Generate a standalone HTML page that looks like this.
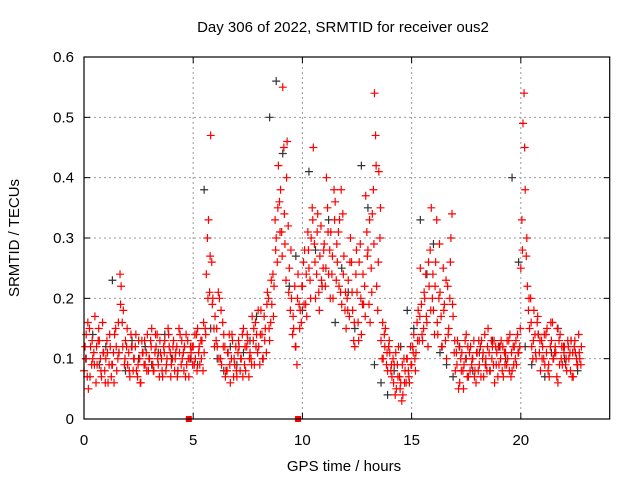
<!DOCTYPE html>
<html><head><meta charset="utf-8"><style>
html,body{margin:0;padding:0;background:#fff;}
svg{display:block;font-family:"Liberation Sans",sans-serif;}
</style></head><body>
<svg id="chart" width="640" height="480">
</svg>
<script>
const xTicks=[0,5,10,15,20];
const yTicks=[0,0.1,0.2,0.3,0.4,0.5,0.6];
const yTickLabels=["0","0.1","0.2","0.3","0.4","0.5","0.6"];
const redStartHour=0, redStepHour=0.1;
const redA=[.08,.14,.05,.12,.10,.17,.09,.13,.07,.11,
.10,.06,.12,.09,.14,.08,.11,.22,.18,.13,
.09,.07,.12,.10,.08,.13,.06,.11,.09,.14,
.10,.15,.08,.12,.09,.11,.07,.13,.10,.12,
.09,.13,.11,.08,.14,.10,.12,.09,.07,.11,
.12,.10,.15,.09,.13,.11,.24,.33,.47,.20,
.17,.12,.20,.09,.14,.08,.11,.06,.13,.09,
.07,.12,.10,.15,.08,.13,.11,.17,.09,.14,
.12,.18,.10,.15,.21,.13,.19,.22,.30,.42,
.38,.55,.29,.46,.25,.20,.15,.12,.24,.18,
.22,.28,.17,.25,.30,.45,.20,.34,.27,.22,
.29,.40,.24,.31,.20,.36,.26,.33,.19,.27,
.15,.23,.30,.18,.12,.21,.26,.14,.19,.37,
.28,.16,.34,.54,.22,.41,.13,.10,.15,.08,
.11,.07,.09,.05,.12,.06,.04,.08,.10,.06,
.09,.14,.11,.18,.25,.13,.20,.16,.22,.35,
.18,.26,.14,.21,.12,.19,.10,.15,.30,.17,
.08,.13,.06,.11,.09,.14,.07,.12,.10,.08,
.11,.09,.13,.07,.10,.15,.08,.12,.06,.11,
.09,.13,.07,.11,.10,.14,.08,.12,.09,.11,
.25,.49,.38,.22,.15,.12,.18,.10,.14,.08,
.12,.09,.15,.07,.13,.10,.11,.06,.14,.09,
.12,.08,.10,.13,.07,.11,.09,.10];
const redBStartHour=0.05;
const redB=[.12,.07,.15,.09,.11,.06,.13,.10,.16,.08,
.13,.09,.07,.11,.15,.10,.24,.16,.09,.12,
.11,.14,.08,.12,.07,.10,.13,.09,.11,.08,
.13,.09,.11,.14,.07,.10,.12,.08,.15,.11,
.10,.08,.12,.15,.09,.11,.07,.13,.10,.12,
.09,.14,.11,.13,.08,.15,.30,.21,.26,.15,
.13,.21,.10,.16,.12,.08,.14,.10,.07,.12,
.11,.08,.14,.09,.12,.07,.10,.13,.16,.11,
.09,.14,.17,.11,.20,.16,.24,.33,.26,.36,
.31,.45,.23,.32,.18,.14,.22,.09,.19,.16,
.26,.19,.31,.23,.35,.29,.24,.21,.32,.25,
.22,.35,.28,.24,.38,.23,.31,.21,.34,.18,
.20,.17,.26,.13,.24,.16,.29,.19,.22,.31,
.19,.25,.38,.47,.18,.30,.10,.14,.09,.12,
.08,.10,.04,.09,.07,.03,.10,.06,.08,.12,
.12,.10,.16,.13,.19,.15,.24,.12,.28,.20,
.14,.33,.20,.17,.25,.13,.22,.20,.34,.11,
.11,.05,.10,.08,.13,.07,.11,.09,.13,.06,
.08,.12,.10,.14,.08,.11,.13,.09,.12,.07,
.12,.08,.11,.09,.13,.07,.12,.10,.14,.12,
.33,.54,.27,.18,.20,.10,.14,.16,.11,.13,
.10,.14,.08,.12,.16,.11,.07,.13,.10,.12,
.09,.13,.11,.07,.12,.10,.14,.09];
const redCStartHour=0.075;
const redC=[.10,.16,.07,.13,.09,.12,.15,.08,.11,.06,
.11,.14,.09,.06,.12,.16,.19,.12,.10,.15,
.08,.12,.10,.14,.09,.06,.11,.13,.08,.10,
.12,.08,.14,.10,.13,.08,.11,.09,.14,.07,
.12,.10,.07,.11,.13,.08,.14,.10,.12,.09,
.14,.08,.12,.10,.16,.14,.20,.27,.19,.12,
.15,.10,.18,.12,.07,.11,.09,.14,.10,.08,
.13,.10,.07,.12,.14,.10,.09,.15,.12,.18,
.14,.10,.13,.19,.15,.23,.17,.28,.35,.31,
.27,.34,.40,.21,.28,.17,.12,.20,.15,.22,
.19,.24,.28,.20,.33,.26,.31,.18,.23,.28,
.25,.31,.20,.27,.33,.29,.22,.38,.24,.21,
.18,.26,.21,.16,.28,.13,.20,.24,.17,.27,
.33,.21,.29,.42,.26,.35,.16,.12,.11,.13,
.09,.06,.11,.07,.05,.09,.06,.10,.07,.09,
.11,.08,.13,.17,.14,.21,.17,.26,.18,.24,
.22,.16,.29,.12,.18,.23,.14,.26,.19,.13,
.09,.12,.08,.05,.10,.12,.08,.10,.07,.11,
.13,.07,.11,.09,.12,.08,.10,.13,.09,.12,
.10,.12,.09,.13,.08,.11,.09,.13,.11,.15,
.28,.45,.30,.20,.16,.13,.11,.17,.13,.10,
.14,.11,.09,.16,.10,.12,.15,.09,.12,.11,
.10,.12,.08,.11,.13,.09,.11,.12];
const grayStartHour=0.1, grayStepHour=0.3;
const gray=[.10,.14,.09,.12,.23,.11,.08,.13,.10,.12,.09,.11,.14,.10,.08,.12,.10,.09,.38,.15,.10,.08,.12,.09,.11,.13,.17,.10,.50,.56,.44,.22,.27,.18,.41,.28,.22,.33,.16,.25,.21,.15,.42,.35,.09,.06,.04,.08,.12,.18,.15,.33,.24,.29,.11,.09,.07,.12,.10,.08,.11,.09,.13,.12,.10,.40,.26,.12,.09,.14,.07,.11,.15,.10,.13,.08];
const gapHours=[4.8,9.8];

const L=84,R=609.7,T=57,B=419,XMAX=24.07,YMAX=0.6;
const sx=h=>L+(h/XMAX)*(R-L);
const sy=v=>B-(v/YMAX)*(B-T);
const svg=document.getElementById('chart');
const NS='http://www.w3.org/2000/svg';
function mk(tag,attrs,parent){const e=document.createElementNS(NS,tag);for(const k in attrs)e.setAttribute(k,attrs[k]);(parent||svg).appendChild(e);return e;}

const grid=mk('g',{});


yTicks.forEach((v,i)=>{
  const y=sy(v);
  if(i>0&&i<yTicks.length-1){mk('line',{x1:L,x2:R,y1:y,y2:y,stroke:'#999','stroke-dasharray':'2,3','stroke-width':1},grid);}
  mk('line',{x1:L,x2:L+6,y1:y,y2:y,stroke:'#000'});
  mk('line',{x1:R,x2:R-6,y1:y,y2:y,stroke:'#000'});
  const t=mk('text',{x:L-10,y:y+5,'text-anchor':'end','font-size':15});
  t.textContent=yTickLabels[i];
  
  
});
xTicks.forEach(h=>{
  const x=sx(h);
  if(h>0)mk('line',{x1:x,x2:x,y1:T,y2:B,stroke:'#999','stroke-dasharray':'2,3','stroke-width':1},grid);
  mk('line',{x1:x,x2:x,y1:B,y2:B-6,stroke:'#000'});
  mk('line',{x1:x,x2:x,y1:T,y2:T+6,stroke:'#000'});
  const t=mk('text',{x:x,y:B+26,'text-anchor':'middle','font-size':15});
  t.textContent=String(h);
  
  
});

function plus(h,v,color,g){
  const x=sx(h),y=sy(v);
  mk('path',{d:`M${x-4},${y}H${x+4}M${x},${y-4}V${y+4}`,stroke:color,'stroke-width':1.2,fill:'none'},g);
}
const gGray=mk('g',{});


gray.forEach((v,i)=>plus(grayStartHour+i*grayStepHour,v,'#333',gGray));
const gRed=mk('g',{});


redA.forEach((v,i)=>plus(redStartHour+i*redStepHour,v,'#f00',gRed));
redB.forEach((v,i)=>plus(redBStartHour+i*redStepHour,v,'#f00',gRed));
redC.forEach((v,i)=>plus(redCStartHour+i*redStepHour,v,'#f00',gRed));
gapHours.forEach(h=>{
  const r=mk('rect',{x:sx(h)-3,y:B-3,width:6,height:6,fill:'#f00'});
  
  
});

const frame=mk('rect',{x:L,y:T,width:R-L,height:B-T,fill:'none',stroke:'#000','stroke-width':1.2});



const title=mk('text',{x:343,y:32,'text-anchor':'middle','font-size':15});
title.textContent='Day 306 of 2022, SRMTID for receiver ous2';


const xl=mk('text',{x:344,y:471,'text-anchor':'middle','font-size':15});
xl.textContent='GPS time / hours';


const yl=mk('text',{x:0,y:0,'text-anchor':'middle','font-size':15,transform:'translate(19,238) rotate(-90)'});
yl.textContent='SRMTID / TECUs';


</script>
</body></html>
